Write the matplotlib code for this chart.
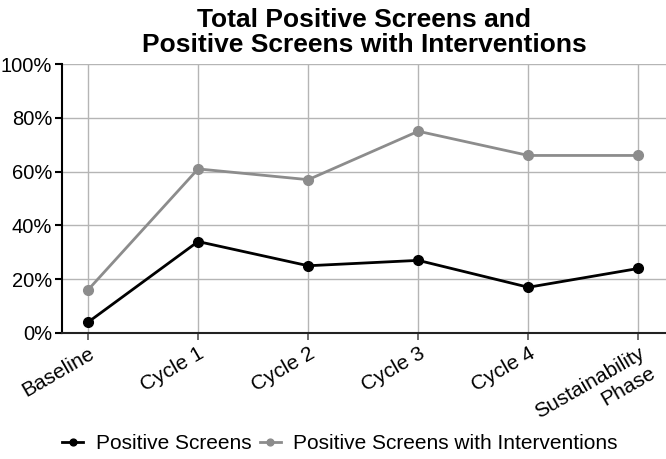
import numpy as np
import matplotlib
matplotlib.use('Agg')
import matplotlib.pyplot as plt
from matplotlib.ticker import PercentFormatter

plt.rcParams['font.family'] = ['Liberation Sans', 'DejaVu Sans']

################################################################################
# Data
phases = ['Baseline', 'Cycle 1', 'Cycle 2', 'Cycle 3', 'Cycle 4', 'Sustainability\nPhase']
positive_screens = [4, 34, 25, 27, 17, 24]
positive_with_interventions = [16, 61, 57, 75, 66, 66]
y_ticks = [0, 20, 40, 60, 80, 100]
################################################################################

fig = plt.figure(figsize=(6.66, 4.59), dpi=100)
ax = fig.add_axes([62/666, 1-333/459, 1-62/666, (333-64)/459])

x = np.arange(len(phases))
ax.plot(x, positive_screens, color='black', lw=2, marker='o', ms=7,
        label='Positive Screens', zorder=3, clip_on=False)
ax.plot(x, positive_with_interventions, color='#8c8c8c', lw=2, marker='o', ms=7,
        label='Positive Screens with Interventions', zorder=3, clip_on=False)

ax.set_xlim(-0.236, 5.25)
ax.set_ylim(0, 100)
ax.set_yticks(y_ticks)
ax.yaxis.set_major_formatter(PercentFormatter(decimals=0))
ax.set_xticks(x)
ax.set_xticklabels(phases, rotation=30, ha='right', rotation_mode='anchor',
                   fontsize=15, multialignment='right')
ax.tick_params(axis='y', labelsize=14.5, length=5, width=1.5, direction='out', pad=2)
ax.tick_params(axis='x', length=5, width=1.2, direction='out', color='#555555', pad=3)

ax.grid(True, color='#b5b5b5', lw=1)
ax.set_axisbelow(True)
for s in ['top', 'right']:
    ax.spines[s].set_visible(False)
ax.spines['left'].set_linewidth(1.5)
ax.spines['bottom'].set_linewidth(1.5)
ax.spines['bottom'].set_color('#222222')

# title is centred over the plot area, not the figure
fig.suptitle('Total Positive Screens and\nPositive Screens with Interventions',
             fontsize=19, fontweight='bold', x=364/666, y=0.982, linespacing=1.05)

fig.legend(loc='lower center', ncol=2, frameon=False, fontsize=15,
           bbox_to_anchor=(340/666, -0.028), handlelength=1.0, columnspacing=0.4,
           handletextpad=0.6, markerscale=0.7)

fig.savefig('out.png', dpi=100)
